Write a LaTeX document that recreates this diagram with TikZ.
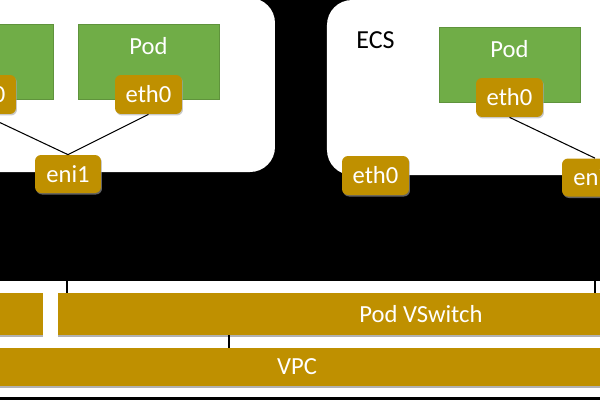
\documentclass[tikz,border=0pt]{standalone}
\usepackage{fontspec}
\setmainfont{Carlito}
\usetikzlibrary{positioning, shadows}

\definecolor{podgreen}{RGB}{112,173,71}
\definecolor{nicgold}{RGB}{191,144,0}

\begin{document}
\begin{tikzpicture}[x=0.02cm, y=-0.02cm,
    host/.style={fill=white, rounded corners=0.5cm},
    pod/.style={fill=podgreen, draw=podgreen!85!black, line width=0.3pt, minimum width=2.82cm, minimum height=1.5cm, inner sep=0pt},
    podtext/.style={text=white, font=\fontsize{14pt}{16pt}\selectfont, inner sep=0pt},
    nic/.style={fill=nicgold, rounded corners=0.12cm, minimum width=1.34cm, minimum height=0.78cm, inner sep=0pt, text=white, font=\fontsize{14pt}{16pt}\selectfont, drop shadow={shadow xshift=0.02cm, shadow yshift=-0.03cm, fill=black!35, opacity=0.6}},
    switchbox/.style={fill=nicgold, inner sep=0pt, text=white, font=\fontsize{14pt}{16pt}\selectfont, drop shadow={shadow xshift=0pt, shadow yshift=-0.04cm, fill=black!30, opacity=1}},
    link/.style={line width=0.6pt}]
      \useasboundingbox (0,0) rectangle (600,400);
      \clip (0,0) rectangle (600,400);
      \fill[black] (0,0) rectangle (600,400);

      % hosts %
      \fill[host] (-200,-2) rectangle (275,172);
      \fill[host] (327,0) rectangle (640,175);
      \node[text centered, font=\fontsize{14.8pt}{17pt}\selectfont, inner sep=0pt] (ecs) at (375.5,40) {ECS};

      % pods %
      \node[pod] (poda) at (-17.5,61.5) {};
      \node[pod] (podb) at (148.5,61.5) {};
      \node[pod] (podc) at (509.5,65) {};
      \node[podtext] (podbtext) at ([yshift=-0.44cm]podb.north) {Pod};
      \node[podtext] (podctext) at ([yshift=-0.44cm]podc.north) {Pod};

      % nics %
      \node[nic, below of = poda, node distance=0.66cm] (etha) {eth0};
      \node[nic, below of = podb, node distance=0.66cm] (ethb) {eth0};
      \node[nic, below of = podc, node distance=0.65cm] (ethc) {eth0};
      \node[nic, minimum width=1.32cm, minimum height=0.76cm] (enia) at (68,174) {eni1};
      \node[nic] (ethecs) at (375.5,175.5) {eth0};
      \node[nic, minimum width=1.32cm, minimum height=0.76cm] (enib) at (595,177.5) {eni1};

      % edges %
      \draw[link] (etha.south) -- (enia.north);
      \draw[link] (ethb.south) -- (enia.north);
      \draw[link] (ethc.south) -- (enib.north);

      % network %
      \fill[white] (0,281) rectangle (600,397);
      \node[switchbox, minimum width=2.06cm, minimum height=0.84cm] (nodevsw) at (-8.5,314) {};
      \node[switchbox, minimum width=14.52cm, minimum height=0.84cm] (podvsw) at (421,314) {Pod VSwitch};
      \node[switchbox, minimum width=15.88cm, minimum height=0.76cm] (vpc) at (297,367) {VPC};
      \coordinate (upa) at (67,281);
      \coordinate (upb) at (595,281);
      \coordinate (vpclink) at (229,335);
      \draw[link] (upa) -- (upa |- podvsw.north);
      \draw[link] (upb) -- (upb |- podvsw.north);
      \draw[link] (podvsw.south -| vpclink) -- (vpc.north -| vpclink);
\end{tikzpicture}
\end{document}
